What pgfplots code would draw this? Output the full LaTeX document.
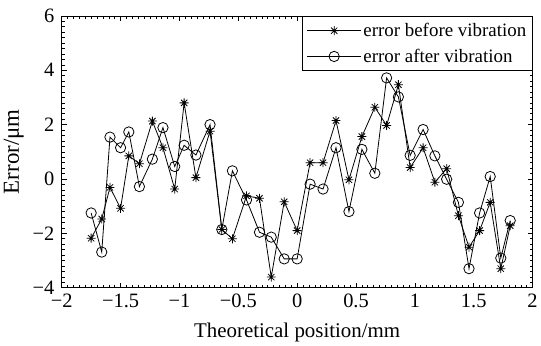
\documentclass[border=0pt]{standalone}
\usepackage{fontspec}
\setmainfont{Liberation Serif}
\usepackage{pgfplots}
\pgfplotsset{compat=1.18}
\pgfdeclareplotmark{mstar}{%
  \pgfpathmoveto{\pgfqpoint{-\pgfplotmarksize}{0pt}}%
  \pgfpathlineto{\pgfqpoint{\pgfplotmarksize}{0pt}}%
  \pgfpathmoveto{\pgfqpoint{0pt}{-\pgfplotmarksize}}%
  \pgfpathlineto{\pgfqpoint{0pt}{\pgfplotmarksize}}%
  \pgfpathmoveto{\pgfqpoint{-0.7\pgfplotmarksize}{-0.7\pgfplotmarksize}}%
  \pgfpathlineto{\pgfqpoint{0.7\pgfplotmarksize}{0.7\pgfplotmarksize}}%
  \pgfpathmoveto{\pgfqpoint{-0.7\pgfplotmarksize}{0.7\pgfplotmarksize}}%
  \pgfpathlineto{\pgfqpoint{0.7\pgfplotmarksize}{-0.7\pgfplotmarksize}}%
  \pgfusepathqstroke}
\begin{document}
\begin{tikzpicture}
\begin{axis}[
  at={(0pt,0pt)}, anchor=south west,
  scale only axis,
  width=473pt, height=273pt,
  xmin=-2, xmax=2, ymin=-4, ymax=6,
  xtick={-2,-1.5,-1,-0.5,0,0.5,1,1.5,2},
  xticklabels={−2,−1.5,−1,−0.5,0,0.5,1,1.5,2},
  ytick={-4,-2,0,2,4,6},
  yticklabels={−4,−2,0,2,4,6},
  minor x tick num=9,
  minor y tick num=9,
  tick align=inside,
  major tick length=5pt,
  minor tick length=3pt,
  every tick/.style={black, line width=0.6pt},
  axis line style={black, line width=0.8pt},
  tick label style={font=\fontsize{20.5}{24}\selectfont},
  xticklabel style={yshift=-3pt},
  yticklabel style={xshift=-4pt},
  xlabel={Theoretical position/mm},
  ylabel={Error/μm},
  xlabel style={font=\fontsize{21}{25}\selectfont, yshift=-8pt},
  ylabel style={font=\fontsize{23}{27}\selectfont, yshift=2pt},
  legend style={at={(1,1)}, anchor=north east, draw=black, line width=0.8pt,
    font=\fontsize{19}{22}\selectfont, inner xsep=4pt, inner ysep=5pt, row sep=7pt,
    legend cell align=left},
  legend image code/.code={%
    \draw[mark repeat=2,mark phase=2] plot coordinates {(0pt,0pt) (27pt,0pt) (54pt,0pt)};},
]
\addplot[black, line width=0.8pt, mark=mstar, mark size=4.5pt, mark options={line width=0.8pt}] coordinates {
(-1.75,-2.18) (-1.66,-1.47) (-1.59,-0.31) (-1.50,-1.08) (-1.43,0.85) (-1.34,0.56)
(-1.23,2.13) (-1.14,1.15) (-1.04,-0.37) (-0.96,2.80) (-0.86,0.05) (-0.74,1.76)
(-0.64,-1.86) (-0.55,-2.20) (-0.43,-0.62) (-0.32,-0.71) (-0.22,-3.61) (-0.11,-0.84)
(0.00,-1.90) (0.11,0.60) (0.22,0.60) (0.33,2.15) (0.44,-0.03) (0.55,1.56)
(0.66,2.64) (0.76,1.97) (0.86,3.47) (0.96,0.42) (1.07,1.15) (1.17,-0.12)
(1.27,0.38) (1.37,-1.35) (1.46,-2.51) (1.55,-1.90) (1.64,-0.86) (1.73,-3.30) (1.81,-1.72)
};
\addlegendentry{error before vibration}
\addplot[black, line width=0.8pt, mark=o, mark size=5.2pt, mark options={line width=0.8pt}] coordinates {
(-1.75,-1.25) (-1.66,-2.69) (-1.59,1.54) (-1.50,1.15) (-1.43,1.73) (-1.34,-0.28)
(-1.23,0.73) (-1.14,1.89) (-1.04,0.46) (-0.96,1.24) (-0.86,0.88) (-0.74,2.00)
(-0.64,-1.86) (-0.55,0.30) (-0.43,-0.77) (-0.32,-1.96) (-0.22,-2.14) (-0.11,-2.94)
(0.00,-2.94) (0.11,-0.19) (0.22,-0.37) (0.33,1.15) (0.44,-1.20) (0.55,1.09)
(0.66,0.21) (0.76,3.72) (0.86,3.02) (0.96,0.87) (1.07,1.82) (1.17,0.85)
(1.27,-0.01) (1.37,-0.86) (1.46,-3.30) (1.55,-1.25) (1.64,0.09) (1.73,-2.91) (1.81,-1.53)
};
\addlegendentry{error after vibration}
\end{axis}
\path[use as bounding box] (-62pt,-58pt) rectangle (479pt,289pt);
\end{tikzpicture}
\end{document}
